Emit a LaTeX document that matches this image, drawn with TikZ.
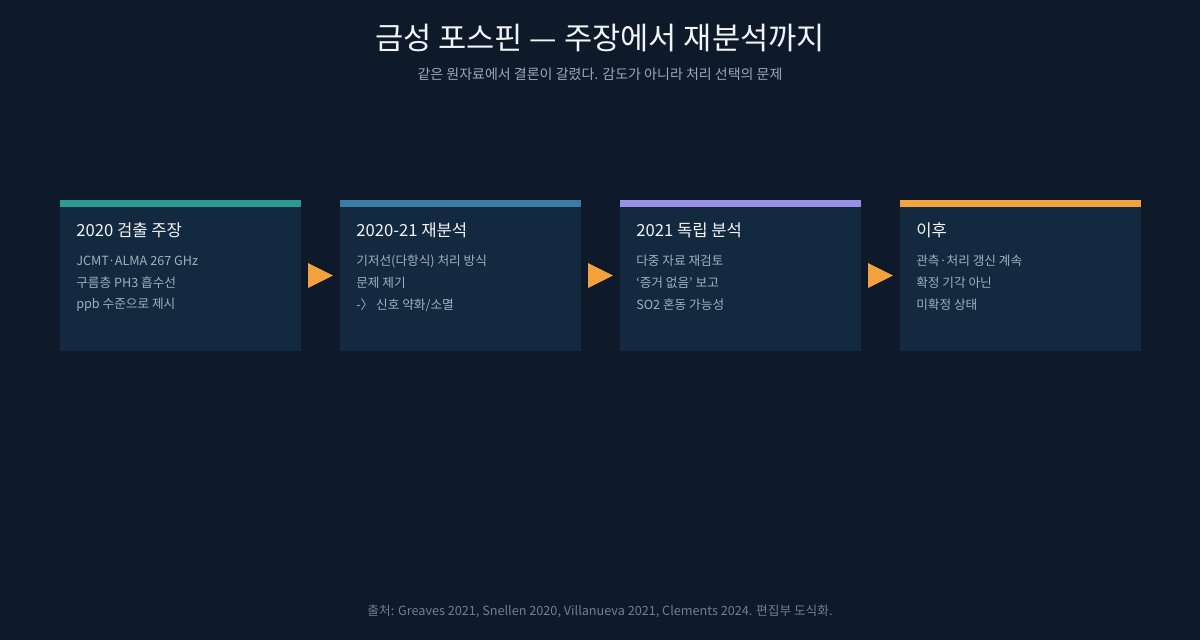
\documentclass[tikz,border=0pt]{standalone}
\usepackage{fontspec}
\setmainfont{Noto Sans CJK KR}
\definecolor{bg}{HTML}{0E1A2A}
\definecolor{boxc}{HTML}{13293F}
\definecolor{cA}{HTML}{2A9D8F}
\definecolor{cB}{HTML}{3A7CA5}
\definecolor{cC}{HTML}{9B8FE8}
\definecolor{cD}{HTML}{F4A23C}
\definecolor{ttl}{HTML}{F2F4F7}
\definecolor{sub}{HTML}{9AA8B8}
\definecolor{bodyc}{HTML}{A3AFBD}
\definecolor{foot}{HTML}{6F7F90}
\begin{document}
\begin{tikzpicture}[x=0.75pt,y=-0.75pt,
  card/.style={fill=boxc,draw=none},
  bar/.style={fill=#1,draw=none},
  head/.style={anchor=west,text=ttl,font=\fontsize{12.5}{14}\selectfont,inner sep=0},
  line/.style={anchor=west,text=bodyc,font=\fontsize{9.5}{11}\selectfont,inner sep=0},
  arr/.style={fill=cD,draw=none}]
\fill[bg] (0,0) rectangle (1200,640);
\useasboundingbox (0,0) rectangle (1200,640);
\node[text=ttl,font=\fontsize{23}{26}\selectfont] (title) at (600,38) {금성 포스핀 — 주장에서 재분석까지};
\node[text=sub,font=\fontsize{10.5}{12}\selectfont] (subtitle) at (600,74) {같은 원자료에서 결론이 갈렸다. 감도가 아니라 처리 선택의 문제};
\foreach \x/\c/\n in {60/cA/a,340/cB/b,620/cC/c,900/cD/d}{
  \fill[card] (\x,200) rectangle ++(241,151);
  \fill[bar=\c] (\x,200) rectangle ++(241,7);
  \coordinate (\n) at (\x+16,0);
}
\node[head] (ha) at (76,230) {2020 검출 주장};
\node[line] (a1) at (76,261) {JCMT·ALMA 267 GHz};
\node[line] (a2) at (76,283) {구름층 PH3 흡수선};
\node[line] (a3) at (76,305) {ppb 수준으로 제시};
\node[head] (hb) at (356,230) {2020-21 재분석};
\node[line] (b1) at (356,261) {기저선(다항식) 처리 방식};
\node[line] (b2) at (356,283) {문제 제기};
\node[line] (b3) at (356,305) {-〉 신호 약화/소멸};
\node[head] (hc) at (636,230) {2021 독립 분석};
\node[line] (c1) at (636,261) {다중 자료 재검토};
\node[line] (c2) at (636,283) {‘증거 없음’ 보고};
\node[line] (c3) at (636,305) {SO2 혼동 가능성};
\node[head] (hd) at (916,230) {이후};
\node[line] (d1) at (916,261) {관측·처리 갱신 계속};
\node[line] (d2) at (916,283) {확정 기각 아닌};
\node[line] (d3) at (916,305) {미확정 상태};
\foreach \x in {308,588,868}{
  \fill[arr] (\x,263) -- (\x+25,275.5) -- (\x,288) -- cycle;
}
\node[text=foot,font=\fontsize{9.5}{11}\selectfont] (footer) at (600,611) {출처: Greaves 2021, Snellen 2020, Villanueva 2021, Clements 2024. 편집부 도식화.};
\end{tikzpicture}
\end{document}
